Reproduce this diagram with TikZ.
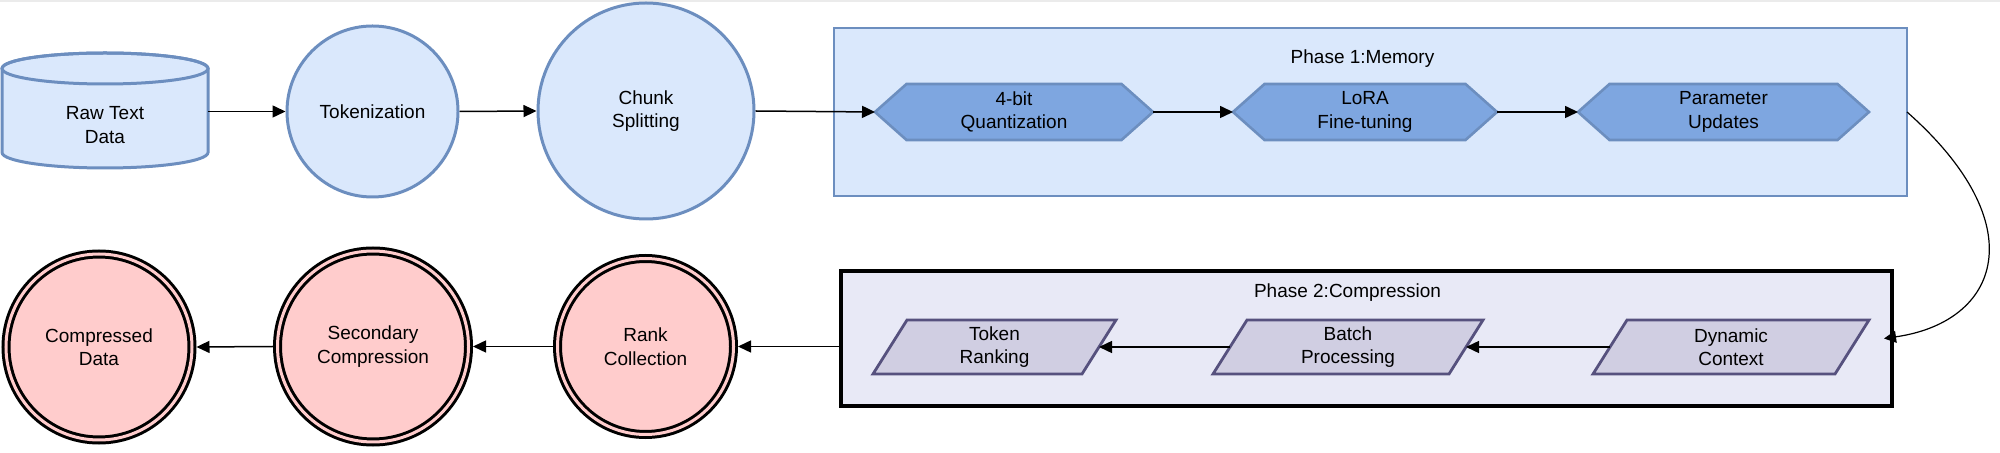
\documentclass[tikz,border=0pt]{standalone}
\usepackage{fontspec}
\setmainfont{Liberation Sans}
\usetikzlibrary{arrows.meta,calc}
\definecolor{bluefill}{HTML}{DAE8FC}
\definecolor{bluestroke}{HTML}{6C8EBF}
\definecolor{hexfill}{HTML}{7EA6E0}
\definecolor{pinkfill}{HTML}{FFCCCC}
\definecolor{parafill}{HTML}{D0CEE2}
\definecolor{parastroke}{HTML}{56517E}
\definecolor{phasetwo}{RGB}{232,233,246}
\pgfdeclarelayer{back}
\pgfdeclarelayer{mid}
\pgfsetlayers{back,mid,main}
\tikzset{
  txt/.style={font=\fontsize{9.5}{11.75}\selectfont, align=center, text=black},
  arr/.style={draw=black, line width=0.75pt, -{Triangle[length=6.5pt,width=6pt]}},
  bluecirc/.style={txt, circle, draw=bluestroke, fill=bluefill, line width=1.5pt, inner sep=0pt},
  dblcirc/.style={txt, circle, draw=black, fill=pinkfill, double=pinkfill, double distance=1.5pt, line width=1.5pt, inner sep=0pt, outer sep=2.25pt},
  hexbox/.style={txt, rectangle, inner sep=0pt, outer sep=0pt, minimum height=28pt},
  hexshape/.style={fill=hexfill, draw=bluestroke, line width=1.3pt, line join=miter},
  parabox/.style={txt, rectangle, inner sep=0pt, outer sep=0pt, minimum height=27pt},
  parashape/.style={fill=parafill, draw=parastroke, line width=1.4pt},
  phaseone/.style={rectangle, fill=bluefill, draw=bluestroke, line width=1.4pt, inner sep=0pt, outer sep=0pt},
  phasetwobox/.style={rectangle, fill=phasetwo, draw=black, line width=1.6pt, inner sep=0pt, outer sep=0pt},
  cyl/.style={fill=bluefill, draw=bluestroke, line width=1.5pt},
}
\newcommand{\hexdraw}[1]{%
  \begin{pgfonlayer}{mid}
  \filldraw[hexshape] (#1.west) -- ([xshift=15.75pt]#1.north west) -- ([xshift=-15.75pt]#1.north east) -- (#1.east) -- ([xshift=-15.75pt]#1.south east) -- ([xshift=15.75pt]#1.south west) -- cycle;
  \end{pgfonlayer}}
\newcommand{\paradraw}[1]{%
  \begin{pgfonlayer}{mid}
  \filldraw[parashape] (#1.south west) -- ([xshift=17pt]#1.north west) -- (#1.north east) -- ([xshift=-17pt]#1.south east) -- cycle;
  \end{pgfonlayer}}
\begin{document}
\begin{tikzpicture}[x=0.5pt,y=-0.5pt]
\useasboundingbox (0,0) rectangle (2000,453);
\fill[black!8] (0,0) rectangle (2000,2.5);

% phase containers
\begin{pgfonlayer}{back}
\node[phaseone, minimum width=536.5pt, minimum height=84pt] (p1) at (1370.5,112) {};
\node[phasetwobox, minimum width=525.5pt, minimum height=67.5pt] (p2) at (1366.5,338.5) {};
\end{pgfonlayer}
\node[txt] (p1title) at (1362.5,59) {Phase 1:Memory};
\node[txt] (p2title) at (1347.5,293) {Phase 2:Compression};

% cylinder
\filldraw[cyl] (2,68.5) -- (2,152.5) arc[start angle=180, end angle=0, x radius=103, y radius=15.5] -- (208,68.5) arc[start angle=0, end angle=-180, x radius=103, y radius=15.5] -- cycle;
\draw[cyl, fill=none] (105,68.5) ellipse[x radius=103, y radius=15.5];
\node[rectangle, minimum width=103pt, minimum height=57.5pt, inner sep=0pt, outer sep=0pt] (raw) at (105,111.5) {};
\node[txt] (rawtxt) at (105,125) {Raw Text\\Data};

% top row circles
\node[bluecirc, minimum size=85.5pt] (tok) at (372.5,111.5) {Tokenization};
\node[bluecirc, minimum size=108pt] (chunk) at (646,111) {Chunk\\Splitting};

% hexagons
\node[hexbox, minimum width=139pt] (h1) at (1014,112) {4-bit\\Quantization};
\node[hexbox, minimum width=132pt] (h2) at (1365,112) {LoRA\\Fine-tuning};
\node[hexbox, minimum width=145.5pt] (h3) at (1723.5,112) {Parameter\\Updates};
\hexdraw{h1}\hexdraw{h2}\hexdraw{h3}

% parallelograms
\node[parabox, minimum width=121.5pt] (tr) at (994.5,347) {Token\\Ranking};
\node[parabox, minimum width=135pt] (bp) at (1348,347) {Batch\\Processing};
\node[parabox, minimum width=138pt] (dc) at (1731,347) {Dynamic\\Context};
\paradraw{tr}\paradraw{bp}\paradraw{dc}

% bottom row double circles
\node[dblcirc, minimum size=88pt] (rank) at (645.5,346.5) {Rank\\Collection};
\node[dblcirc, minimum size=95.5pt] (sec) at (373,346.5) {Secondary\\Compression};
\node[dblcirc, minimum size=93pt] (comp) at (99,347) {Compressed\\Data};

% connectors
\draw[arr] (raw.east) -- (tok.west);
\draw[arr] (tok.east) -- (chunk.west);
\draw[arr] (chunk.east) -- (h1.west);
\draw[arr] (h1.east) -- (h2.west);
\draw[arr] (h2.east) -- (h3.west);
\draw[draw=black, line width=0.6pt, -{Triangle[length=6pt,width=6pt]}] (p1.east) .. controls (2035,225) and (2000,322) .. ([xshift=-4pt]p2.east);
\draw[arr] ([xshift=8.5pt]dc.west) -- ([xshift=-8.5pt]bp.east);
\draw[arr] ([xshift=8.5pt]bp.west) -- ([xshift=-8.5pt]tr.east);
\draw[arr] (p2.west |- rank.east) -- (rank.east);
\draw[arr] (rank.west) -- (sec.east);
\draw[arr] (sec.west) -- (comp.east);
\end{tikzpicture}
\end{document}
